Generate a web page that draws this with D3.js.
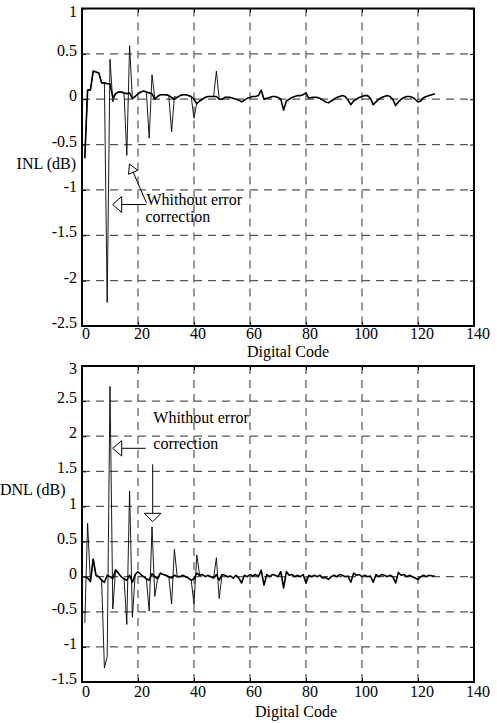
<!DOCTYPE html>
<html>
<head>
<meta charset="utf-8">
<script src="https://cdn.jsdelivr.net/npm/d3@7"></script>
<style>
  html, body { margin: 0; padding: 0; background: #fff; }
  svg { display: block; }
  text { font-family: "Liberation Serif", "Times New Roman", serif; fill: #000; }
</style>
</head>
<body>
<div id="chart"></div>
<script>
// ---------------- DATA ----------------
const xTicks = [0, 20, 40, 60, 80, 100, 120, 140];
const xTickLabels = ["0", "20", "40", "60", "80", "100", "120", "140"];

const inlTicks = [-2.5, -2, -1.5, -1, -0.5, 0, 0.5, 1];
const inlTickLabels = ["-2.5", "-2", "-1.5", "-1", "-0.5", "0", "0.5", "1"];
const dnlTicks = [-1.5, -1, -0.5, 0, 0.5, 1, 1.5, 2, 2.5, 3];
const dnlTickLabels = ["-1.5", "-1", "-0.5", "0", "0.5", "1", "1.5", "2", "2.5", "3"];

// INL with error correction, digital codes 1..126
const inlCorrected = [
  -0.65, 0.10, 0.10, 0.31, 0.30, 0.29, 0.18, 0.18, 0.17, 0.17,
   0.02, 0.06, 0.08, 0.08, 0.07, 0.06, 0.07, 0.01, 0.03, 0.06,
   0.08, 0.09, 0.08, 0.07, 0.06, 0.00, 0.03, 0.05, 0.05, 0.05,
   0.04, 0.02, 0.00, 0.02, 0.04, 0.05, 0.05, 0.04, 0.03, 0.00,
  -0.05,-0.02, 0.00, 0.02, 0.03, 0.03, 0.03, 0.03, 0.00, 0.00,
   0.02, 0.02, 0.02, 0.01, 0.00,-0.01,-0.03,-0.01, 0.01, 0.02,
   0.03, 0.03, 0.04, 0.10, 0.00, 0.01, 0.02, 0.03, 0.03, 0.02,
   0.00,-0.12,-0.02, 0.00, 0.02, 0.03, 0.04, 0.04, 0.05, 0.07,
   0.01, 0.02, 0.02, 0.02, 0.01,-0.01,-0.03,-0.04,-0.02, 0.00,
   0.02, 0.03, 0.04, 0.03,-0.01,-0.06,-0.02, 0.00, 0.02, 0.03,
   0.04, 0.04, 0.01,-0.06,-0.03, 0.00, 0.02, 0.03, 0.04, 0.03,
   0.00,-0.07,-0.03, 0.00, 0.02, 0.03, 0.03, 0.02, 0.00,-0.03,
  -0.02, 0.02, 0.03, 0.04, 0.05, 0.06
];
// INL without error correction, digital codes 1..50
const inlUncorrected = [
  -0.65, 0.10, 0.10, 0.31, 0.30, 0.29, 0.18, 0.18,-2.24, 0.44,
  -0.03, 0.06, 0.08, 0.08, 0.07,-0.62, 0.59, 0.00, 0.03, 0.06,
   0.08, 0.09, 0.08,-0.43, 0.27, 0.01, 0.03, 0.05, 0.05, 0.05,
   0.04,-0.36, 0.03, 0.02, 0.04, 0.05, 0.05, 0.04, 0.03,-0.21,
  -0.04,-0.02, 0.00, 0.02, 0.03, 0.03, 0.03, 0.31, 0.00, 0.00
];
// DNL with error correction, digital codes 1..126
const dnlCorrected = [
   0.00,-0.02,-0.07, 0.25, 0.02, 0.00,-0.05,-0.08, 0.02, 0.00,
  -0.03, 0.10, 0.05, 0.00,-0.03,-0.05, 0.02,-0.08, 0.03, 0.07,
   0.03, 0.00,-0.03,-0.05, 0.04, 0.00,-0.03, 0.05, 0.03, 0.02,
   0.00,-0.02, 0.02, 0.00, 0.00, 0.02, 0.00,-0.02,-0.05,-0.03,
   0.05, 0.02, 0.03, 0.00, 0.02, 0.00,-0.02, 0.03,-0.05, 0.03,
   0.02, 0.00, 0.01,-0.02, 0.02,-0.02,-0.09, 0.02, 0.00, 0.03,
   0.01, 0.03, 0.00, 0.09,-0.12, 0.03, 0.00, 0.03, 0.02, 0.00,
   0.07,-0.16, 0.07, 0.02, 0.03, 0.00, 0.02, 0.00, 0.03,-0.09,
   0.02, 0.00, 0.02, 0.00, 0.02,-0.02,-0.01,-0.04, 0.00, 0.02,
   0.00, 0.03, 0.02, 0.00, 0.01,-0.08, 0.05, 0.02, 0.03, 0.00,
   0.02, 0.00, 0.01,-0.08, 0.03, 0.00, 0.03, 0.02, 0.00, 0.02,
   0.00,-0.09, 0.06, 0.02, 0.03, 0.00, 0.02, 0.00,-0.02,-0.04,
   0.00, 0.02, 0.00, 0.02, 0.01, 0.01
];
// DNL without error correction, digital codes 1..50
const dnlUncorrected = [
  -0.66, 0.76,-0.07, 0.25, 0.02, 0.00,-0.05,-1.30,-1.14, 2.71,
  -0.46, 0.10, 0.05, 0.00,-0.03,-0.68, 1.22,-0.58, 0.03, 0.07,
   0.03, 0.00,-0.03,-0.49, 0.71,-0.28,-0.03, 0.05, 0.03, 0.02,
   0.00,-0.39, 0.39, 0.00, 0.00, 0.02, 0.00,-0.02,-0.05,-0.39,
   0.31, 0.02, 0.03, 0.00, 0.02, 0.00,-0.02, 0.27,-0.31, 0.03
];

const annotationText = ["Whithout error", "correction"];

// ---------------- DRAWING ----------------
const W = 497, H = 723;
const svg = d3.select("#chart").append("svg").attr("width", W).attr("height", H);
svg.append("rect").attr("width", W).attr("height", H).attr("fill", "#fff");

const FONT = 16;
const SERIF = '"Liberation Serif", "Times New Roman", serif';

function drawPanel(cfg) {
  const x = d3.scaleLinear().domain([0, 140]).range([82, 474]);
  const y = d3.scaleLinear().domain(cfg.yDomain).range([cfg.bottom, cfg.top]);
  const g = svg.append("g");

  // grid
  const grid = g.append("g").attr("stroke", "#555").attr("stroke-width", 1.2)
    .attr("stroke-dasharray", "8,6").attr("fill", "none");
  xTicks.slice(1, -1).forEach(t => {
    grid.append("line").attr("x1", x(t)).attr("x2", x(t)).attr("y1", cfg.top).attr("y2", cfg.bottom);
  });
  cfg.yTicks.slice(1, -1).forEach(t => {
    grid.append("line").attr("x1", 82).attr("x2", 474).attr("y1", y(t)).attr("y2", y(t));
  });

  // axes
  const ax = g.append("g").attr("transform", `translate(0,${cfg.bottom})`)
    .call(d3.axisBottom(x).tickValues(xTicks).tickFormat((d, i) => xTickLabels[i]).tickSize(-4).tickPadding(cfg.xPad));
  ax.attr("font-family", SERIF).attr("font-size", FONT);
  ax.selectAll("text").attr("x", 3.5).style("font-size", FONT + "px").style("font-family", SERIF);
  const ay = g.append("g").attr("transform", "translate(82,0)")
    .call(d3.axisLeft(y).tickValues(cfg.yTicks).tickFormat((d, i) => cfg.yLabels[i]).tickSize(-4).tickPadding(5));
  ay.attr("font-family", SERIF).attr("font-size", FONT);
  ay.selectAll("text").attr("dy", "0.1em").style("font-size", FONT + "px").style("font-family", SERIF);
  ay.selectAll(".tick").filter(d => d === cfg.yDomain[1]).select("text").attr("y", 6);
  g.append("g").attr("transform", `translate(474,0)`)
    .call(d3.axisRight(y).tickValues(cfg.yTicks).tickFormat("").tickSize(-4));
  g.append("g").attr("transform", `translate(0,${cfg.top})`)
    .call(d3.axisTop(x).tickValues(xTicks).tickFormat("").tickSize(-4));
  g.selectAll(".domain").remove();
  g.selectAll(".tick line").attr("stroke", "#000").attr("stroke-width", 1);

  // series
  const line = d3.line().x(d => x(d[0])).y(d => y(d[1]));
  const unc = cfg.uncorrected.map((v, i) => [i + 1, v]);
  const cor = cfg.corrected.map((v, i) => [i + 1, v]);
  g.append("path").datum(unc).attr("d", line).attr("fill", "none")
    .attr("stroke", "#000").attr("stroke-width", 0.9).attr("stroke-linejoin", "miter");
  g.append("path").datum(cor).attr("d", line).attr("fill", "none")
    .attr("stroke", "#000").attr("stroke-width", 1.6).attr("stroke-linejoin", "round");

  // frame
  g.append("rect").attr("x", 82).attr("y", cfg.top).attr("width", 474 - 82).attr("height", cfg.bottom - cfg.top)
    .attr("fill", "none").attr("stroke", "#000").attr("stroke-width", 2);

  // axis labels
  g.append("text").attr("x", cfg.yLabelX).attr("y", cfg.yLabelY).attr("text-anchor", cfg.yLabelAnchor)
    .style("font-size", FONT + "px").text(cfg.yLabel);
  g.append("text").attr("x", cfg.xLabelX).attr("y", cfg.xLabelY).attr("text-anchor", "middle")
    .style("font-size", FONT + "px").text("Digital Code");
  return g;
}

function arrowHead(g, tipX, tipY, dirX, dirY, len, half) {
  const n = Math.hypot(dirX, dirY); const ux = dirX / n, uy = dirY / n;
  const bx = tipX - ux * len, by = tipY - uy * len;
  const px = -uy, py = ux;
  g.append("path")
    .attr("d", `M${tipX},${tipY}L${bx + px * half},${by + py * half}L${bx - px * half},${by - py * half}Z`)
    .attr("fill", "#fff").attr("stroke", "#000").attr("stroke-width", 1);
}

// top panel: INL
const gTop = drawPanel({
  yDomain: [-2.5, 1], top: 8.5, bottom: 326, yTicks: inlTicks, yLabels: inlTickLabels,
  corrected: inlCorrected, uncorrected: inlUncorrected, xPad: 1.5,
  yLabel: "INL (dB)", yLabelX: 76, yLabelY: 169, yLabelAnchor: "end",
  xLabelX: 288, xLabelY: 356.5
});
// annotations top
gTop.append("text").attr("x", 146.5).attr("y", 205).style("font-size", FONT + "px").text(annotationText[0]);
gTop.append("text").attr("x", 145.5).attr("y", 221.5).style("font-size", FONT + "px").text(annotationText[1]);
gTop.append("line").attr("x1", 121.7).attr("y1", 204.5).attr("x2", 146.5).attr("y2", 204.5).attr("stroke", "#000").attr("stroke-width", 1);
arrowHead(gTop, 112.7, 204.5, -1, 0, 9, 8);
gTop.append("line").attr("x1", 146.5).attr("y1", 203).attr("x2", 133.2).attr("y2", 172.2).attr("stroke", "#000").attr("stroke-width", 1);
arrowHead(gTop, 129.5, 164, -17, -39, 9, 5);

// bottom panel: DNL
const gBot = drawPanel({
  yDomain: [-1.5, 3], top: 366, bottom: 682, yTicks: dnlTicks, yLabels: dnlTickLabels,
  corrected: dnlCorrected, uncorrected: dnlUncorrected, xPad: 3.5,
  yLabel: "DNL (dB)", yLabelX: 0, yLabelY: 494.5, yLabelAnchor: "start",
  xLabelX: 296, xLabelY: 716.5
});
gBot.append("text").attr("x", 153.3).attr("y", 423).style("font-size", FONT + "px").text(annotationText[0]);
gBot.append("text").attr("x", 153.3).attr("y", 448.5).style("font-size", FONT + "px").text(annotationText[1]);
gBot.append("line").attr("x1", 121.7).attr("y1", 448.3).attr("x2", 145.7).attr("y2", 448.3).attr("stroke", "#000").attr("stroke-width", 1);
arrowHead(gBot, 112.7, 448.3, -1, 0, 9, 7.7);
gBot.append("line").attr("x1", 152.7).attr("y1", 464.3).attr("x2", 152.7).attr("y2", 513.3).attr("stroke", "#000").attr("stroke-width", 1);
arrowHead(gBot, 152.7, 521.7, 0, 1, 8.4, 8.3);
</script>
</body>
</html>
